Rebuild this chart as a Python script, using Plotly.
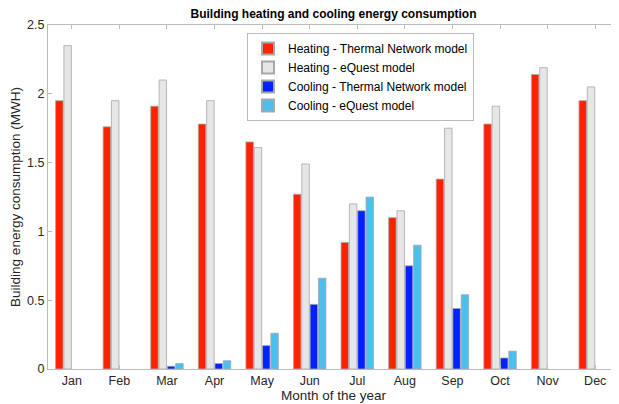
import plotly.graph_objects as go

months = ["Jan", "Feb", "Mar", "Apr", "May", "Jun", "Jul", "Aug", "Sep", "Oct", "Nov", "Dec"]
heat_tn = [1.95, 1.76, 1.91, 1.78, 1.65, 1.27, 0.92, 1.10, 1.38, 1.78, 2.14, 1.95]
heat_eq = [2.35, 1.95, 2.10, 1.95, 1.61, 1.49, 1.20, 1.15, 1.75, 1.91, 2.19, 2.05]
cool_tn = [0.0, 0.0, 0.02, 0.04, 0.17, 0.47, 1.15, 0.75, 0.44, 0.08, 0.0, 0.0]
cool_eq = [0.0, 0.0, 0.04, 0.06, 0.26, 0.66, 1.25, 0.90, 0.54, 0.13, 0.0, 0.0]

series = [
    ("Heating - Thermal Network model", heat_tn, "#FF2200"),
    ("Heating - eQuest model", heat_eq, "#E6E6E6"),
    ("Cooling - Thermal Network model", cool_tn, "#0022FF"),
    ("Cooling - eQuest model", cool_eq, "#4DBEEE"),
]

# page has an 8px body margin; size figure to fill the rest of the 619x404 window
W, H = 611, 396
L, T, B, R = 40, 17, 35, 0

fig = go.Figure()
for name, vals, col in series:
    fig.add_trace(go.Bar(
        x=months, y=vals, name=name,
        marker=dict(color=col, line=dict(color="#A8A8A8",
                                         width=[0.8 if v > 0 else 0 for v in vals])),
    ))

font = "Liberation Sans, Arial, Helvetica, sans-serif"
fig.update_layout(
    width=W, height=H,
    margin=dict(l=L, r=R, t=T, b=B),
    paper_bgcolor="white", plot_bgcolor="white",
    barmode="group", bargap=0.3, bargroupgap=0.1,
    font=dict(family=font, size=12, color="#262626"),
    title=dict(text="<b>Building heating and cooling energy consumption</b>",
               x=(L + W) / 2 / W, xanchor="center", y=1 - 6 / H, yanchor="middle",
               font=dict(size=12, color="#000000")),
    legend=dict(x=(247 - 48) / 571, y=(369 - 33) / 344, xanchor="left", yanchor="top",
                bgcolor="white", bordercolor="#BBBBBB", borderwidth=1,
                font=dict(size=12, color="#000000"),
                itemsizing="constant", tracegroupgap=0, itemwidth=30),
    showlegend=True,
)
fig.update_xaxes(
    range=[-0.5, 11.5], showline=True, linecolor="#BBBBBB", linewidth=1, mirror="ticks",
    ticks="inside", ticklen=4, tickcolor="#BBBBBB", showgrid=False,
    title=dict(text="Month of the year", standoff=2, font=dict(size=13.5)),
    tickfont=dict(size=12.5),
)
fig.update_yaxes(
    range=[0, 2.5], dtick=0.5, showline=True, linecolor="#BBBBBB", linewidth=1, mirror="ticks",
    ticks="inside", ticklen=4, tickcolor="#BBBBBB", showgrid=False, zeroline=False,
    title=dict(text="Building energy consumption (MWH)", standoff=4, font=dict(size=13.5)),
    tickfont=dict(size=12.5),
)
fig.write_html("out.html")
